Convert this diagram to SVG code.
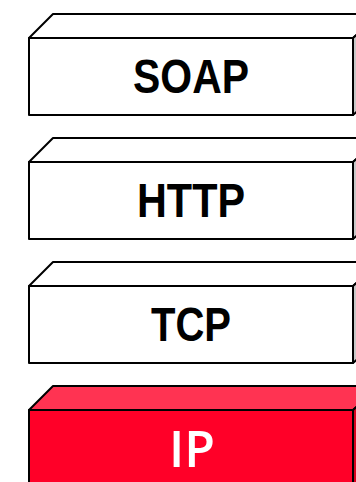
<svg xmlns="http://www.w3.org/2000/svg" width="356" height="482" viewBox="0 0 356 482">
  <style>
    .edge { stroke: #000; stroke-width: 2; stroke-linejoin: round; }
    .front { fill: var(--front, #fff); }
    .top { fill: var(--top, #fff); }
    .side { fill: var(--side, #c8c8c8); }
    .label { font-family: "Liberation Sans", Arial, sans-serif; font-weight: bold; font-size: 49px; fill: #000; text-anchor: middle; }
    .ip { --front: #ff0028; --top: #ff3352; --side: #d8001f; }
    .ip .label { font-family: "Open Sans", "Noto Sans", sans-serif; font-weight: 600; font-size: 50px; fill: #fff; }
  </style>
  <defs>
    <!-- one protocol layer slab: front face 324x77, depth 24 -->
    <g id="slab">
      <polygon class="top edge" points="29,24 53,0 380,0 353,24"/>
      <polygon class="side edge" points="353,24 380,0 380,77 353,101"/>
      <rect class="front edge" x="29" y="24" width="324" height="77"/>
    </g>
  </defs>

  <g id="soap" transform="translate(0,14)">
    <use href="#slab"/>
    <text class="label" x="191" y="79" textLength="116" lengthAdjust="spacingAndGlyphs">SOAP</text>
  </g>

  <g id="http" transform="translate(0,138)">
    <use href="#slab"/>
    <text class="label" x="191" y="79" textLength="108" lengthAdjust="spacingAndGlyphs">HTTP</text>
  </g>

  <g id="tcp" transform="translate(0,262)">
    <use href="#slab"/>
    <text class="label" x="191" y="79" textLength="80" lengthAdjust="spacingAndGlyphs">TCP</text>
  </g>

  <g id="ip" class="ip" transform="translate(0,386)">
    <use href="#slab"/>
    <text class="label" x="192" y="81">IP</text>
  </g>

  <g id="connectors"/>
</svg>
